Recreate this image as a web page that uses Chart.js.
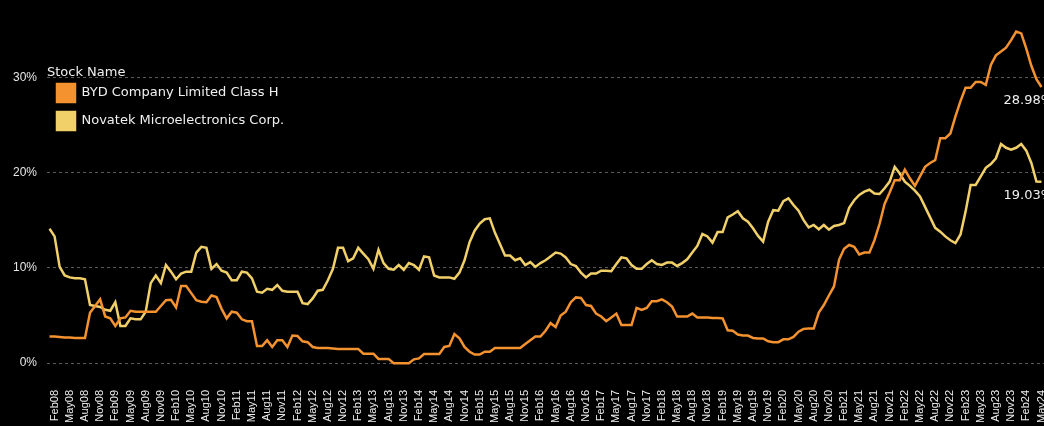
<!DOCTYPE html>
<html>
<head>
<meta charset="utf-8">
<script src="https://cdn.jsdelivr.net/npm/chart.js@4.4.1/dist/chart.umd.min.js"></script>
<style>
  html, body { margin: 0; padding: 0; background: #000; overflow: hidden; }
  #stockChart { display: block; }
</style>
</head>
<body>
<canvas id="stockChart" width="1044" height="426"></canvas>
<script>
// monthly values, Jan08 .. May24 (percent)
const bydValues = [
  2.8, 2.8, 2.75, 2.7, 2.7, 2.65, 2.65, 2.65, 5.3, 6.0,
  6.7, 4.9, 4.7, 3.9, 4.7, 4.8, 5.5, 5.4, 5.4, 5.4,
  5.4, 5.4, 6.0, 6.6, 6.65, 5.85, 8.1, 8.1, 7.35, 6.6,
  6.45, 6.4, 7.1, 6.95, 5.7, 4.7, 5.4, 5.3, 4.6, 4.4,
  4.4, 1.8, 1.8, 2.4, 1.7, 2.4, 2.4, 1.7, 2.9, 2.85,
  2.3, 2.2, 1.7, 1.6, 1.6, 1.6, 1.55, 1.5, 1.5, 1.5,
  1.5, 1.5, 1.0, 1.0, 1.0, 0.45, 0.45, 0.45, 0.0, 0.0,
  0.0, 0.0, 0.4, 0.5, 0.95, 0.95, 0.95, 0.95, 1.7, 1.8,
  3.05, 2.6, 1.7, 1.2, 0.9, 0.9, 1.2, 1.2, 1.6, 1.6,
  1.6, 1.6, 1.6, 1.6, 2.0, 2.4, 2.8, 2.8, 3.4, 4.2,
  3.8, 5.0, 5.4, 6.4, 6.9, 6.85, 6.1, 6.0, 5.2, 4.9,
  4.4, 4.8, 5.2, 4.0, 4.0, 4.0, 5.8, 5.6, 5.8, 6.5,
  6.5, 6.7, 6.4, 5.95, 4.9, 4.9, 4.9, 5.2, 4.8, 4.8,
  4.8, 4.75, 4.75, 4.7, 3.45, 3.4, 3.0, 2.9, 2.9, 2.65,
  2.6, 2.6, 2.3, 2.2, 2.2, 2.5, 2.5, 2.75, 3.3, 3.6,
  3.65, 3.65, 5.3, 6.1, 7.1, 8.05, 10.85, 12.0, 12.4, 12.2,
  11.4, 11.6, 11.6, 12.9, 14.6, 16.7, 17.9, 19.2, 19.2, 20.3,
  19.4, 18.6, 19.6, 20.6, 21.0, 21.3, 23.6, 23.6, 24.1, 25.9,
  27.5, 28.9, 28.9, 29.5, 29.5, 29.2, 31.3, 32.3, 32.7, 33.1,
  33.9, 34.8, 34.6, 33.0, 31.2, 29.8, 28.98
];

const novatekValues = [
  14.1, 13.3, 10.1, 9.2, 9.0, 8.9, 8.9, 8.8, 6.1, 6.0,
  5.9, 5.6, 5.5, 6.4, 3.9, 3.9, 4.7, 4.6, 4.6, 5.4,
  8.4, 9.2, 8.4, 10.3, 9.6, 8.8, 9.4, 9.6, 9.6, 11.6,
  12.2, 12.1, 9.9, 10.4, 9.7, 9.5, 8.7, 8.7, 9.6, 9.5,
  8.9, 7.5, 7.4, 7.8, 7.7, 8.2, 7.6, 7.5, 7.5, 7.5,
  6.3, 6.2, 6.8, 7.6, 7.7, 8.7, 9.9, 12.1, 12.1, 10.7,
  11.0, 12.1, 11.5, 10.9, 9.9, 11.9, 10.5, 9.9, 9.8, 10.3,
  9.8, 10.5, 10.3, 9.8, 11.2, 11.1, 9.2, 9.0, 9.0, 9.0,
  8.85, 9.5, 10.8, 12.7, 13.9, 14.65, 15.1, 15.2, 13.7, 12.5,
  11.3, 11.3, 10.8, 11.0, 10.3, 10.6, 10.1, 10.5, 10.8, 11.2,
  11.6, 11.5, 11.1, 10.4, 10.2, 9.5, 9.0, 9.4, 9.4, 9.7,
  9.7, 9.65, 10.4, 11.1, 11.0, 10.3, 9.9, 9.9, 10.4, 10.8,
  10.4, 10.3, 10.55, 10.55, 10.2, 10.5, 10.9, 11.6, 12.3, 13.55,
  13.3, 12.65, 13.75, 13.75, 15.3, 15.6, 15.95, 15.2, 14.85, 14.15,
  13.35, 12.75, 14.85, 16.05, 16.0, 17.0, 17.3, 16.6, 16.0, 15.0,
  14.25, 14.5, 14.05, 14.5, 14.0, 14.4, 14.5, 14.7, 16.3, 17.1,
  17.65, 18.0, 18.2, 17.8, 17.75, 18.35, 19.05, 20.6, 19.9, 19.05,
  18.6, 18.1, 17.5, 16.4, 15.3, 14.2, 13.8, 13.3, 12.9, 12.6,
  13.5, 15.9, 18.7, 18.7, 19.6, 20.5, 20.9, 21.5, 23.0, 22.6,
  22.4, 22.6, 23.0, 22.3, 21.0, 19.05, 19.03
];

const seriesNames = ['BYD Company Limited Class H', 'Novatek Microelectronics Corp.'];
const seriesColors = ['#f3922f', '#f1d06a'];
const monthNames = ['Jan', 'Feb', 'Mar', 'Apr', 'May', 'Jun', 'Jul', 'Aug', 'Sep', 'Oct', 'Nov', 'Dec'];
const tickMonths = ['Feb', 'May', 'Aug', 'Nov'];
const yTicks = [0, 10, 20, 30];
const startYear = 2008;

const labels = [];
for (let i = 0; i < bydValues.length; i++) {
  const yr = startYear + Math.floor(i / 12);
  labels.push(monthNames[i % 12] + String(yr).slice(2));
}

function noPadding(scale) {
  scale.paddingLeft = 0;
  scale.paddingRight = 0;
  scale.paddingTop = 0;
  scale.paddingBottom = 0;
}

// last value printed under the end of each line
const endLabels = {
  id: 'endLabels',
  afterDatasetsDraw(chart) {
    const ctx = chart.ctx;
    ctx.save();
    ctx.font = '13px "DejaVu Sans"';
    ctx.fillStyle = '#f0f0f0';
    ctx.textAlign = 'left';
    ctx.textBaseline = 'middle';
    chart.data.datasets.forEach((ds, i) => {
      const meta = chart.getDatasetMeta(i);
      const last = meta.data[meta.data.length - 1];
      const v = ds.data[ds.data.length - 1];
      ctx.fillText(v.toFixed(2) + '%', last.x - 38, last.y + 14);
    });
    ctx.restore();
  }
};

const ctx = document.getElementById('stockChart').getContext('2d');
const stockChart = new Chart(ctx, {
  type: 'line',
  data: {
    labels: labels,
    datasets: [
      {
        label: seriesNames[0],
        data: bydValues,
        borderColor: seriesColors[0],
        backgroundColor: seriesColors[0],
        borderWidth: 2.5,
        pointRadius: 0,
        tension: 0
      },
      {
        label: seriesNames[1],
        data: novatekValues,
        borderColor: seriesColors[1],
        backgroundColor: seriesColors[1],
        borderWidth: 2.5,
        pointRadius: 0,
        tension: 0
      }
    ]
  },
  options: {
    responsive: false,
    animation: false,
    layout: { padding: { top: 1, right: 0, bottom: 0, left: 0 } },
    plugins: {
      tooltip: { enabled: false },
      legend: {
        position: 'chartArea',
        align: 'start',
        title: {
          display: true,
          text: 'Stock Name',
          position: 'start',
          color: '#f0f0f0',
          font: { family: 'DejaVu Sans', size: 13 },
          padding: { top: 66, bottom: -7.6 }
        },
        labels: {
          color: '#f0f0f0',
          font: { family: 'DejaVu Sans', size: 13 },
          boxWidth: 18,
          boxHeight: 18,
          padding: 10
        }
      }
    },
    scales: {
      x: {
        type: 'category',
        offset: true,
        grid: { display: false, drawTicks: false },
        border: { display: false },
        ticks: {
          autoSkip: false,
          minRotation: 90,
          maxRotation: 90,
          padding: 3,
          color: '#eeeeee',
          font: { family: 'Liberation Sans', size: 11 },
          callback: function(val) {
            const l = this.getLabelForValue(val);
            return tickMonths.includes(l.slice(0, 3)) ? l : '';
          }
        },
        afterFit: function(scale) {
          scale.height = 39;
          noPadding(scale);
        }
      },
      y: {
        min: -2.5,
        max: 38,
        grid: {
          color: '#5a5a5a',
          lineWidth: 1,
          drawTicks: false
        },
        border: { display: false, dash: [3, 3] },
        ticks: {
          padding: 10,
          color: '#e6e6e6',
          font: { family: 'Liberation Sans', size: 12 },
          callback: function(v) { return v + '%'; }
        },
        afterBuildTicks: function(scale) {
          scale.ticks = yTicks.map(v => ({ value: v }));
        },
        afterFit: function(scale) {
          scale.width = 47;
          noPadding(scale);
        }
      }
    }
  },
  plugins: [endLabels]
});
</script>
</body>
</html>
